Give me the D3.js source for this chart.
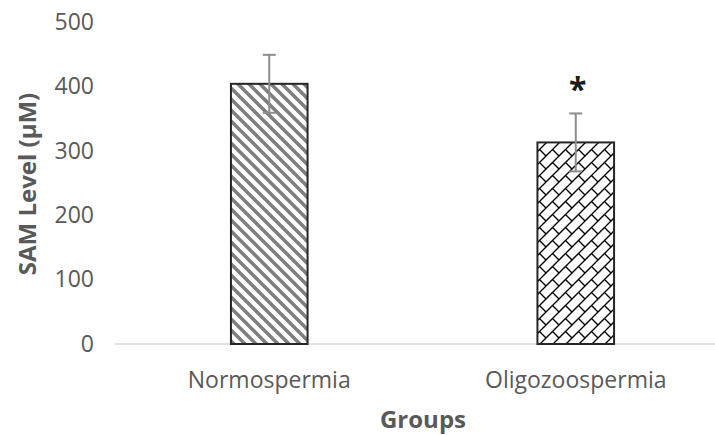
<!DOCTYPE html>
<html>
<head>
<meta charset="utf-8">
<script src="https://cdn.jsdelivr.net/npm/d3@7"></script>
<style>
  html, body { margin: 0; padding: 0; background: #fff; }
  text { font-family: "Open Sans", sans-serif; }
</style>
</head>
<body>
<svg id="chart" width="715" height="435"></svg>
<script>
const categories = ["Normospermia", "Oligozoospermia"];
const values = [404, 313];
const errors = [45, 45];
const significance = ["", "*"];
const yTicks = [0, 100, 200, 300, 400, 500];
const patterns = ["stripes", "brick"];

const svg = d3.select("#chart");
const W = 715, H = 435;
const margin = { left: 116, right: -14, top: 22, bottom: 91 };

const x = d3.scaleBand()
  .domain(categories)
  .range([margin.left, W - margin.right])
  .paddingInner(0.75)
  .paddingOuter(0.375);

const y = d3.scaleLinear()
  .domain([0, 500])
  .range([H - margin.bottom, margin.top]);

const defs = svg.append("defs");

// Wide downward diagonal stripes
const ps = 11;
const p1 = defs.append("pattern")
  .attr("id", "stripes")
  .attr("patternUnits", "userSpaceOnUse")
  .attr("width", ps).attr("height", ps);
p1.append("rect").attr("width", ps).attr("height", ps).attr("fill", "#fff");
p1.append("path")
  .attr("d", `M${-ps},0 L${ps},${2*ps} M0,${-ps} L${2*ps},${ps} M${-ps},${-ps} L${ps},${ps}`)
  .attr("stroke", "#7f7f7f")
  .attr("stroke-width", 3.6);

// Diagonal brick
const bs = 13;
const p2 = defs.append("pattern")
  .attr("id", "brick")
  .attr("patternUnits", "userSpaceOnUse")
  .attr("width", bs).attr("height", bs);
p2.append("rect").attr("width", bs).attr("height", bs).attr("fill", "#fff");
p2.append("path")
  .attr("d", `M0,${bs} L${bs},0 M${-1},1 L1,-1 M${bs-1},${bs+1} L${bs+1},${bs-1} M${bs/2},${bs/2} L${bs},${bs} M${bs/2 - bs},${bs/2} L0,${bs}`)
  .attr("stroke", "#000")
  .attr("stroke-width", 1.4)
  .attr("fill", "none");

const plot = svg.append("g");

// baseline
plot.append("line")
  .attr("x1", margin.left - 1).attr("x2", W)
  .attr("y1", y(0)).attr("y2", y(0))
  .attr("stroke", "#d9d9d9")
  .attr("stroke-width", 1.5);

// bars
plot.selectAll("rect.bar")
  .data(categories)
  .join("rect")
  .attr("class", "bar")
  .attr("x", d => x(d))
  .attr("width", x.bandwidth())
  .attr("y", (d, i) => y(values[i]))
  .attr("height", (d, i) => y(0) - y(values[i]))
  .attr("fill", (d, i) => `url(#${patterns[i]})`)
  .attr("stroke", "#262626")
  .attr("stroke-width", 2);

// error bars
const capW = 13;
const eb = plot.selectAll("g.err")
  .data(categories)
  .join("g")
  .attr("class", "err")
  .attr("stroke", "#8c8c8c")
  .attr("stroke-width", 2);
eb.append("line")
  .attr("x1", d => x(d) + x.bandwidth() / 2)
  .attr("x2", d => x(d) + x.bandwidth() / 2)
  .attr("y1", (d, i) => y(values[i] + errors[i]))
  .attr("y2", (d, i) => y(values[i] - errors[i]));
eb.append("line")
  .attr("x1", d => x(d) + x.bandwidth() / 2 - capW / 2)
  .attr("x2", d => x(d) + x.bandwidth() / 2 + capW / 2)
  .attr("y1", (d, i) => y(values[i] + errors[i]))
  .attr("y2", (d, i) => y(values[i] + errors[i]));
eb.append("line")
  .attr("x1", d => x(d) + x.bandwidth() / 2 - capW / 2)
  .attr("x2", d => x(d) + x.bandwidth() / 2 + capW / 2)
  .attr("y1", (d, i) => y(values[i] - errors[i]))
  .attr("y2", (d, i) => y(values[i] - errors[i]));

// significance marks
plot.selectAll("text.sig")
  .data(categories)
  .join("text")
  .attr("class", "sig")
  .attr("x", d => x(d) + x.bandwidth() / 2 + 2)
  .attr("y", (d, i) => y(values[i] + errors[i]) - 12)
  .attr("text-anchor", "middle")
  .attr("font-size", 32)
  .attr("font-weight", "bold")
  .attr("fill", "#1a1a1a")
  .text((d, i) => significance[i]);

// y axis labels
const yAxis = d3.axisLeft(y).tickValues(yTicks).tickSize(0).tickPadding(22);
const gy = svg.append("g")
  .attr("transform", `translate(${margin.left},0)`)
  .call(yAxis);
gy.select(".domain").remove();
gy.selectAll("text")
  .attr("font-family", "Open Sans, sans-serif")
  .attr("font-size", 23)
  .attr("fill", "#595959");

// x axis labels
const xAxis = d3.axisBottom(x).tickSize(0).tickPadding(28);
const gx = svg.append("g")
  .attr("transform", `translate(0,${y(0)})`)
  .call(xAxis);
gx.select(".domain").remove();
gx.selectAll("text")
  .attr("font-family", "Open Sans, sans-serif")
  .attr("font-size", 23)
  .attr("fill", "#595959");

// axis titles
svg.append("text")
  .attr("x", 423)
  .attr("y", 428)
  .attr("text-anchor", "middle")
  .attr("font-size", 24)
  .attr("font-weight", "bold")
  .attr("fill", "#595959")
  .text("Groups");

svg.append("text")
  .attr("transform", `translate(36,${184}) rotate(-90)`)
  .attr("text-anchor", "middle")
  .attr("font-size", 24)
  .attr("font-weight", "bold")
  .attr("fill", "#595959")
  .text("SAM Level (μM)");
</script>
</body>
</html>
